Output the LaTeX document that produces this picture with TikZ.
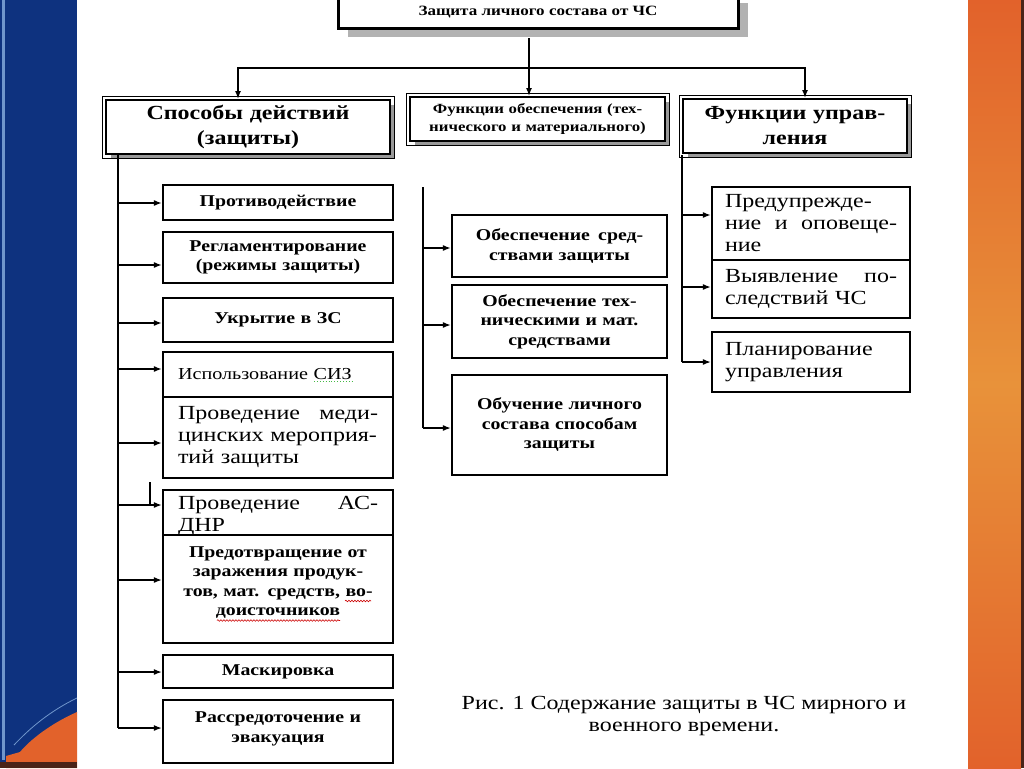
\documentclass[tikz,border=0pt]{standalone}
\usepackage{fontspec}
\setmainfont{Liberation Serif}[FakeStretch=1.2]
\usetikzlibrary{arrows.meta,shadows,decorations.pathmorphing}
\definecolor{slideblue}{HTML}{0E327F}
\definecolor{lightblue}{HTML}{7096CC}
\definecolor{slideorange}{HTML}{E2622B}
\definecolor{orangelight}{HTML}{E8923A}
\definecolor{darkbar}{HTML}{4A2418}
\begin{document}
\begin{tikzpicture}[x=1pt,y=-1pt,
  every node/.style={inner sep=0pt},
  item/.style={draw, line width=2.2pt, fill=white, align=center},
  hdr/.style={draw, line width=2pt, fill=white, align=center,
    drop shadow={shadow xshift=5pt, shadow yshift=-5pt, fill=black!40, opacity=1}},
  topbox/.style={draw, line width=3pt, fill=white, align=center,
    drop shadow={shadow xshift=10pt, shadow yshift=-8pt, fill=black!30, opacity=1}},
  bsmall/.style={font=\fontsize{16.5}{19.5}\selectfont\bfseries},
  bbig/.style={font=\fontsize{20}{25}\selectfont\bfseries},
  reg/.style={font=\fontsize{20}{22}\selectfont},
  arr/.style={line width=1.4pt, -{Latex[length=8pt,width=6pt]}},
  trunk/.style={line width=1.4pt},
  spell/.style={red!80!black, line width=0.6pt, decorate,
    decoration={snake, amplitude=0.8pt, segment length=3pt}}]
\clip (0,0) rectangle (1024,768);
% background
\fill[white] (0,0) rectangle (1024,768);
\fill[slideblue] (0,0) rectangle (77,768);
\fill[lightblue] (2,0) rectangle (5,760);
\fill[slideorange] (77,712) .. controls (50,724) and (30,740) .. (20,752) -- (6,756) -- (6,768) -- (77,768) -- cycle;
\draw[lightblue, line width=0.8pt] (77,698) .. controls (50,711) and (30,728) .. (14,745);
\fill[darkbar] (0,762) rectangle (77,768);
\shade[top color=slideorange, bottom color=slideorange, middle color=orangelight] (968,0) rectangle (1021,768);
\fill[darkbar] (1021,0) rectangle (1024,768);

% top box
\node[topbox, minimum width=400, minimum height=34, font=\fontsize{14.2}{16}\selectfont\bfseries] (top) at (538,12) {Защита личного состава от ЧС};

% headers
\node[hdr, bbig, minimum width=284, minimum height=54, text width=280] (h1) at (248,127) {Способы действий\\(защиты)};
\node[hdr, font=\fontsize{14}{18}\selectfont\bfseries, minimum width=255, minimum height=44, text width=250] (h2) at (537.5,119) {Функции обеспечения (тех-\\нического и материального)};
\node[hdr, bbig, minimum width=224, minimum height=54, text width=220] (h3) at (795,126) {Функции управ-\\ления};
\foreach \n in {h1,h2,h3}
  \draw[line width=0.8pt] ([shift={(-3,-3)}]\n.north west) rectangle ([shift={(3,3)}]\n.south east);

% top connectors
\coordinate (bus) at (529,68);
\draw[arr] ([xshift=-9pt]top.south) ++(0,8) -- (h2.north -| bus);
\draw[arr] (bus) -| ([xshift=-10pt]h1.north);
\draw[arr] (bus) -| ([xshift=10pt]h3.north);

% left column
\node[item, bsmall, minimum width=230, minimum height=35, text width=224] (a1) at (278,202.5) {Противодействие};
\node[item, bsmall, minimum width=230, minimum height=51, text width=224] (a2) at (278,257.5) {Регламентирование\\(режимы защиты)};
\node[item, bsmall, minimum width=230, minimum height=44, text width=224] (a3) at (278,320) {Укрытие в ЗС};
\node[item, font=\fontsize{16.8}{18}\selectfont, minimum width=230, minimum height=45, text width=200, align=left] (a4) at (278,374.5) {Использование СИЗ};
\draw[green!45!gray, line width=0.9pt, dotted] (314,381) -- (352,381);
\node[item, reg, minimum width=230, minimum height=81, text width=200, align=left] (a5) at (278,437.5) {Проведение\hfill меди-\\цинских мероприя-\\тий защиты};
\node[item, minimum width=230, minimum height=45] (a6) at (278,512.5) {};
\node[reg, text width=200, align=left, anchor=north] (a6t) at (278,496) {Проведение\hfill АС-\\ДНР};
\node[item, minimum width=230, minimum height=108] (a7) at (278,589) {};
\node[bsmall, text width=224, align=center, anchor=north] (a7t) at (278,546) {Предотвращение от\\заражения продук-\\тов, мат. средств, во-\\доисточников};
\draw[spell] (345,601) -- (371,601);
\draw[spell] (217,620.5) -- (340,620.5);
\node[item, bsmall, minimum width=230, minimum height=33, text width=224] (a8) at (278,671.5) {Маскировка};
\node[item, minimum width=230, minimum height=63] (a9) at (278,731.5) {};
\node[bsmall, text width=224, align=center, anchor=north] (a9t) at (278,711.5) {Рассредоточение и\\эвакуация};

\coordinate (lt) at (118,155);
\coordinate (lb) at (118,728);
\draw[trunk] (lt) -- (lb);
\foreach \n/\y in {a1/203,a2/265,a3/323,a4/369,a5/443,a6/505,a7/580,a8/672,a9/728}
  \draw[arr] (lt |- 0,\y) -- (\n.west |- 0,\y);
\coordinate (tick) at (150,482);
\draw[trunk] (tick) -- (150,505);

% middle column
\node[item, bsmall, minimum width=215, minimum height=62, text width=205] (b1) at (559.5,246) {Обеспечение\enspace сред-\\ствами защиты};
\node[item, bsmall, minimum width=215, minimum height=73, text width=205] (b2) at (559.5,321.5) {Обеспечение тех-\\ническими и мат.\\средствами};
\node[item, bsmall, minimum width=215, minimum height=100, text width=205] (b3) at (559.5,425) {Обучение личного\\состава способам\\защиты};
\coordinate (mt) at (423,187);
\coordinate (mb) at (423,428);
\draw[trunk] (mt) -- (mb);
\foreach \n/\y in {b1/248,b2/325,b3/428}
  \draw[arr] (mt |- 0,\y) -- (\n.west |- 0,\y);

% right column
\node[item, reg, minimum width=198, minimum height=73, text width=172, align=left] (c1) at (811,223.5) {Предупрежде-\\ние\hfill и\hfill оповеще-\\ние};
\node[item, reg, minimum width=198, minimum height=58, text width=172, align=left] (c2) at (811,289) {Выявление\hfill по-\\следствий ЧС};
\node[item, reg, minimum width=198, minimum height=60, text width=172, align=left] (c3) at (811,362) {Планирование\\управления};
\coordinate (rt) at (682,155);
\coordinate (rb) at (682,362);
\draw[trunk] (rt) -- (rb);
\foreach \n/\y in {c1/215,c2/287,c3/362}
  \draw[arr] (rt |- 0,\y) -- (\n.west |- 0,\y);

% caption
\node[font=\fontsize{20}{22}\selectfont, align=center] (cap) at (684,716) {Рис. 1 Содержание защиты в ЧС мирного и\\военного времени.};
\end{tikzpicture}
\end{document}
